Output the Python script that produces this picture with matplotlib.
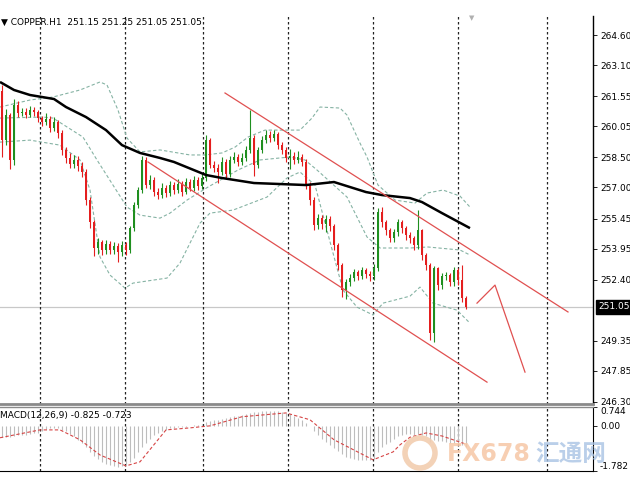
import matplotlib
matplotlib.use("Agg")
import matplotlib.pyplot as plt
from matplotlib.patches import Ellipse
import numpy as np

# ---- price data (COPPER, H1) ----
FIRST_OPEN = 261.80
CLOSES = [259.36, 260.61, 258.37, 261.11, 260.71, 260.76, 260.61, 260.86, 260.76, 260.46,
          260.26, 260.41, 259.96, 260.26, 259.71, 258.86, 258.47, 258.17, 258.37, 258.07,
          257.77, 256.37, 255.27, 253.98, 254.28, 253.88, 254.18, 253.88, 254.08, 253.78,
          254.13, 253.88, 254.97, 256.12, 256.87, 258.37, 257.12, 257.37, 256.77, 256.62,
          256.97, 256.72, 257.12, 256.87, 257.17, 256.77, 257.27, 256.97, 257.37, 257.07,
          257.47, 259.36, 258.12, 257.97, 257.77, 258.27, 257.67, 258.37, 258.52, 258.27,
          258.47, 258.86, 259.46, 258.12, 258.86, 259.36, 259.61, 259.46, 259.66, 259.11,
          258.86, 258.47, 258.57, 258.37, 258.52, 258.27, 257.12, 256.37, 255.12, 255.47,
          255.17, 255.42, 255.07, 254.13, 253.13, 251.88, 252.28, 252.48, 252.78, 252.58,
          252.88, 252.68, 252.58, 252.98, 255.77, 255.27, 254.87, 254.48, 254.77, 255.27,
          254.97, 254.63, 254.48, 254.13, 254.87, 253.63, 253.13, 249.74, 252.98, 252.13,
          252.58, 252.63, 252.28, 252.88, 252.38, 251.48, 251.05]
HIGHS = [262.10, 260.90, 260.70, 261.40, 261.30, 260.95, 260.95, 261.05, 261.00, 260.85,
         260.55, 260.70, 260.55, 260.50, 260.35, 259.85, 259.00, 258.70, 258.60, 258.55,
         258.25, 257.90, 256.50, 255.40, 254.50, 254.40, 254.40, 254.35, 254.30, 254.25,
         254.35, 254.30, 255.10, 256.25, 257.00, 258.55, 258.50, 257.60, 257.50, 256.95,
         257.20, 257.10, 257.30, 257.25, 257.40, 257.30, 257.45, 257.40, 257.55, 257.50,
         257.65, 259.60, 259.45, 258.30, 258.15, 258.50, 258.40, 258.55, 258.75, 258.65,
         258.70, 259.05, 260.86, 259.60, 259.00, 259.55, 259.85, 259.80, 259.85, 259.75,
         259.25, 259.00, 258.90, 258.75, 258.80, 258.65, 258.40, 257.25, 256.50, 255.70,
         255.65, 255.65, 255.60, 255.20, 254.25, 253.25, 252.45, 252.70, 252.95, 252.90,
         253.05, 253.00, 252.85, 253.20, 255.95, 256.00, 255.40, 255.00, 254.95, 255.45,
         255.40, 255.10, 254.80, 254.60, 255.87, 254.95, 253.75, 253.25, 253.10, 253.05,
         252.75, 252.80, 252.75, 253.05, 253.00, 253.13, 251.60]
LOWS = [258.52, 259.10, 257.90, 258.10, 260.50, 260.55, 260.45, 260.50, 260.55, 260.25,
        260.05, 260.10, 259.75, 259.80, 259.45, 258.60, 258.20, 257.95, 257.95, 257.80,
        257.50, 256.10, 255.00, 253.60, 253.70, 253.65, 253.70, 253.70, 253.70, 253.30,
        253.60, 253.65, 253.75, 254.85, 255.95, 256.70, 256.95, 256.90, 256.55, 256.40,
        256.45, 256.50, 256.55, 256.65, 256.70, 256.55, 256.65, 256.80, 256.80, 256.85,
        256.90, 257.30, 257.95, 257.75, 257.20, 257.60, 257.45, 257.50, 258.20, 258.05,
        258.10, 258.30, 258.70, 257.55, 257.95, 258.70, 259.20, 259.25, 259.30, 258.90,
        258.65, 258.25, 257.90, 258.15, 258.20, 258.05, 256.90, 256.10, 254.90, 254.95,
        254.95, 254.80, 254.85, 253.90, 252.90, 251.55, 251.45, 252.10, 252.35, 252.40,
        252.45, 252.50, 252.35, 252.40, 252.85, 255.05, 254.65, 254.30, 254.30, 254.60,
        254.75, 254.40, 254.25, 253.90, 253.95, 253.40, 252.90, 249.40, 249.29, 251.90,
        251.95, 252.40, 252.10, 252.10, 252.15, 251.30, 250.95]

# black moving average
MA_BARS = [-0.5, 3, 7, 13, 16, 21, 26, 30, 34.5, 39.5, 43, 51, 55, 63, 76, 83, 91, 95,
           102, 105, 110, 117]
MA_VALS = [262.26, 261.86, 261.61, 261.41, 261.01, 260.51, 259.86, 259.11, 258.72, 258.47,
           258.27, 257.62, 257.47, 257.22, 257.12, 257.27, 256.77, 256.62, 256.47, 256.27,
           255.72, 254.97]

# Bollinger bands (dashed)
BB_UP_BARS = [-0.5, 7, 12.75, 19.5, 24.5, 26.25, 29, 31.25, 34.5, 39.5, 47, 50.75, 55,
              58.25, 61.5, 65.75, 74.5, 77.5, 79.5, 84.5, 86.25, 89.5, 91.25, 94, 98.25,
              103.25, 106.25, 110.25, 114.5, 117]
BB_UP = [261.01, 261.36, 261.51, 261.86, 262.26, 262.11, 260.86, 259.46, 258.77, 258.87,
         258.62, 258.62, 258.72, 259.01, 259.51, 259.86, 259.86, 260.46, 261.01, 260.96,
         260.61, 259.21, 258.52, 257.12, 256.37, 256.22, 256.72, 256.87, 256.57, 256.02]
BB_MID_BARS = [-0.5, 10.25, 12.75, 20.25, 23.75, 31.25, 34.5, 39.5, 42, 46.25, 51.5, 59,
               64.5, 72, 75.75, 78.75, 86.25, 91.25, 94.5, 102, 106.5, 114.5, 117]
BB_MID = [260.46, 260.51, 260.46, 259.51, 258.37, 256.02, 255.62, 255.47, 255.72, 256.37,
          257.02, 257.87, 258.37, 258.52, 258.37, 257.87, 256.52, 254.53, 253.98, 253.98,
          254.03, 253.88, 253.63]
BB_LO_BARS = [-0.5, 7, 14.5, 19.5, 22, 24.5, 27, 30.75, 32.75, 41.25, 44.5, 49.5, 52,
              57.75, 66.25, 71.25, 74.5, 78.25, 82.75, 85.25, 88.75, 92.75, 95.25, 102,
              104.5, 107.75, 113.75, 117]
BB_LO = [259.26, 259.36, 259.11, 258.37, 256.87, 253.53, 252.63, 251.98, 252.23, 252.48,
         253.23, 255.22, 255.72, 255.87, 256.52, 257.47, 257.77, 257.12, 253.73, 251.88,
         251.03, 250.64, 251.23, 251.58, 252.03, 251.23, 250.88, 250.23]

# red channel and projected path
CH_UPPER = ([55.75, 141.5], [261.71, 250.79])
CH_LOWER = ([36.5, 121.25], [258.27, 247.29])
PROJ = ([118.75, 123.25, 130.75], [251.23, 252.13, 247.79])

LAST_PRICE = 251.05
PRICE_TICKS = [264.60, 263.10, 261.55, 260.05, 258.50, 257.00, 255.45, 253.95, 252.40,
               249.35, 247.85, 246.30]

# MACD(12,26,9)
MACD_HIST = [-0.45, -0.45, -0.43, -0.40, -0.38, -0.36, -0.35, -0.33, -0.30, -0.28,
             -0.22, -0.12, -0.10, -0.08, -0.10, -0.15, -0.22, -0.32, -0.42, -0.55,
             -0.68, -0.85, -1.02, -1.20, -1.32, -1.42, -1.50, -1.56, -1.60, -1.62,
             -1.60, -1.55, -1.42, -1.25, -1.05, -0.82, -0.66, -0.50, -0.38, -0.28,
             -0.20, -0.15, -0.10, -0.07, -0.05, -0.04, -0.03, -0.02, 0.02, 0.04,
             0.06, 0.15, 0.20, 0.22, 0.24, 0.28, 0.30, 0.34, 0.38, 0.40,
             0.42, 0.46, 0.52, 0.54, 0.56, 0.58, 0.60, 0.60, 0.60, 0.58,
             0.56, 0.52, 0.46, 0.40, 0.32, 0.24, 0.12, -0.02, -0.20, -0.36,
             -0.50, -0.62, -0.74, -0.86, -0.98, -1.12, -1.22, -1.28, -1.32, -1.34,
             -1.35, -1.35, -1.34, -1.32, -1.05, -0.85, -0.72, -0.62, -0.52, -0.42,
             -0.36, -0.34, -0.34, -0.35, -0.32, -0.36, -0.40, -0.62, -0.55, -0.58,
             -0.60, -0.62, -0.66, -0.66, -0.70, -0.76, -0.825]
SIG_BARS = [-0.5, 9.5, 14.5, 19.5, 24.5, 31, 34.5, 41, 47, 52, 60, 71, 77, 83, 92.75,
            97.75, 99.5, 102, 106, 110, 116]
SIG_VALS = [-0.47, -0.16, -0.16, -0.55, -1.15, -1.58, -1.42, -0.16, -0.08, 0.0, 0.36,
            0.51, 0.24, -0.55, -1.34, -1.03, -0.75, -0.45, -0.28, -0.40, -0.723]
MACD_TICKS = [0.744, 0.00, -1.782]

GRID_BARS = [9.5, 30.75, 50.25, 71.5, 92.75, 114, 136.25]

W, H = 630, 490
GREEN, RED = "#1f8f1f", "#e41e1e"
BAND = "#86b3a4"
NARROW = ["Liberation Sans Narrow", "DejaVu Sans"]


def fx(px):
    return px / W


def fy(py):
    return 1 - py / H


fig = plt.figure(figsize=(W / 100, H / 100), dpi=100)
ax = fig.add_axes([0, fy(404), fx(593), fy(16) - fy(404)])
ax2 = fig.add_axes([0, fy(471), fx(593), fy(407) - fy(471)], sharex=ax)

x = np.arange(len(CLOSES))
opens = np.array([FIRST_OPEN] + CLOSES[:-1])
closes = np.array(CLOSES)
cols = [GREEN if c >= o else RED for o, c in zip(opens, closes)]

ax.axhline(LAST_PRICE, color="#c8c8c8", lw=0.9, zorder=1)
for b in GRID_BARS:
    for a in (ax, ax2):
        a.axvline(b, color="#222222", lw=0.9, ls=(0, (2, 2)), zorder=1)

ax.vlines(x, LOWS, HIGHS, colors=cols, lw=0.8, zorder=3)
body = np.maximum(np.abs(closes - opens), 0.03)
ax.bar(x, body, bottom=np.minimum(opens, closes), width=0.72, color=cols, lw=0, zorder=3)

for bx, by in ((BB_UP_BARS, BB_UP), (BB_MID_BARS, BB_MID), (BB_LO_BARS, BB_LO)):
    ax.plot(bx, by, color=BAND, lw=0.8, ls=(0, (3, 2)), zorder=2)
ax.plot(MA_BARS, MA_VALS, color="black", lw=1.8, zorder=4, solid_capstyle="butt")

for px_, py_ in (CH_UPPER, CH_LOWER, PROJ):
    ax.plot(px_, py_, color="#e05050", lw=0.9, zorder=4)

ax.set_xlim(-0.5, 147.75)
ax.set_ylim(246.20, 265.55)
ax.yaxis.tick_right()
ax.set_yticks(PRICE_TICKS)
ax.set_yticklabels([f"{t:.2f}" for t in PRICE_TICKS])
ax.tick_params(axis="y", length=3, width=0.6, pad=2, labelsize=6.5, colors="black")
ax.tick_params(axis="x", bottom=False, labelbottom=False)
for lab in ax.get_yticklabels():
    lab.set_family(NARROW)
for s in ("left", "top"):
    ax.spines[s].set_visible(False)
ax.spines["right"].set_linewidth(1)
ax.spines["bottom"].set_color("#8a8a8a")
ax.spines["bottom"].set_linewidth(2)

ax.annotate(f"{LAST_PRICE:.2f}", xy=(1.0, LAST_PRICE), xycoords=("axes fraction", "data"),
            xytext=(4, 0), textcoords="offset points", va="center", ha="left",
            fontsize=6.5, family=NARROW, color="white", zorder=10,
            bbox=dict(boxstyle="square,pad=0.25", fc="black", ec="black"))

# MACD pane
ax2.vlines(x, 0, MACD_HIST, colors="#bdbdbd", lw=0.8, zorder=2)
ax2.plot(SIG_BARS, SIG_VALS, color="#d64545", lw=0.8, ls=(0, (3, 2)), zorder=3)
ax2.set_ylim(-1.782, 0.744)
ax2.yaxis.tick_right()
ax2.set_yticks(MACD_TICKS)
ax2.set_yticklabels([f"{t:.3f}" if t else "0.00" for t in MACD_TICKS])
ax2.tick_params(axis="y", length=3, width=0.6, pad=2, labelsize=6.5)
ax2.tick_params(axis="x", bottom=False, labelbottom=False)
labs = ax2.get_yticklabels()
for lab in labs:
    lab.set_family(NARROW)
labs[0].set_va("top")
labs[-1].set_va("bottom")
ax2.spines["left"].set_visible(False)
ax2.spines["top"].set_color("#8a8a8a")
ax2.spines["top"].set_linewidth(1)

fig.text(fx(1), fy(22), "\u25bc COPPER.H1  251.15 251.25 251.05 251.05", fontsize=6.5,
         va="center", ha="left")
fig.text(fx(472), fy(18), "\u25bc", fontsize=5, color="#b0b0b0", va="center", ha="center")
fig.text(fx(0), fy(415), "MACD(12,26,9) -0.825 -0.723", fontsize=6.5, va="center", ha="left")

# watermark
fig.add_artist(Ellipse((fx(420), fy(453)), 30 / W, 30 / H, transform=fig.transFigure,
                       fill=False, ec="#f2cdb0", lw=4, alpha=0.9, zorder=10))
fig.text(fx(447), fy(454), "FX678", fontsize=17, family=NARROW, weight="bold",
         color="#f6c7a6", alpha=0.85, va="center", ha="left", zorder=10)
fig.text(fx(535), fy(454), "汇通网", fontsize=17, family=["Noto Sans CJK SC", "DejaVu Sans"],
         weight="bold", color="#a9c3e4", alpha=0.8, va="center", ha="left", zorder=10)

fig.savefig("out.png", dpi=100)
